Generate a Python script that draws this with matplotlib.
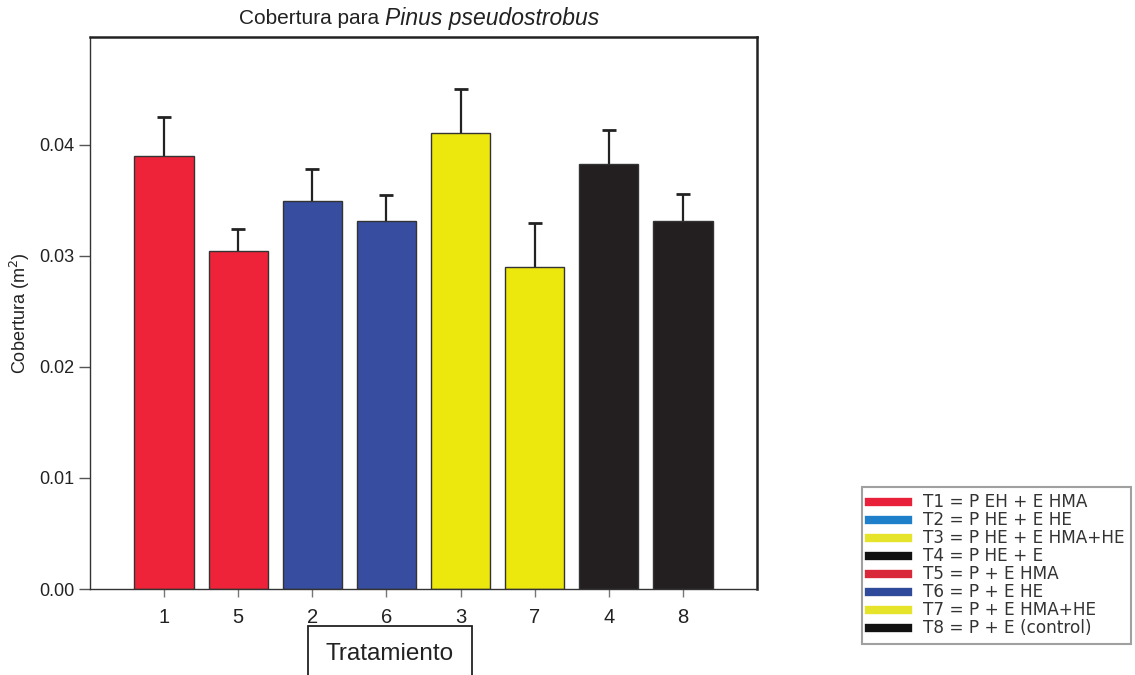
import matplotlib
matplotlib.use("Agg")
import matplotlib.pyplot as plt
from matplotlib.lines import Line2D
import numpy as np

plt.rcParams['font.family'] = ['Liberation Sans', 'DejaVu Sans']

tick_labels = ["1", "5", "2", "6", "3", "7", "4", "8"]
values = [0.0390, 0.0304, 0.0349, 0.0331, 0.0411, 0.0290, 0.0383, 0.0331]
errors = [0.0035, 0.0020, 0.0029, 0.0024, 0.0039, 0.0040, 0.0030, 0.0025]
bar_colors = ["#EE2339", "#EE2339", "#374DA0", "#374DA0",
              "#ECE70D", "#ECE70D", "#231F20", "#231F20"]

legend_labels = ["T1 = P EH + E HMA", "T2 = P HE + E HE", "T3 = P HE + E HMA+HE",
                 "T4 = P HE + E", "T5 = P + E HMA", "T6 = P + E HE",
                 "T7 = P + E HMA+HE", "T8 = P + E (control)"]
legend_colors = ["#E8203A", "#1E7FCB", "#E6E42A", "#111111",
                 "#D8283A", "#2F4A9A", "#E6E42A", "#111111"]

fig = plt.figure(figsize=(11.35, 6.75), dpi=100)
ax = fig.add_axes([0.0793, 0.1274, 0.5877, 0.8176])

x = np.arange(1, len(values) + 1)
ax.bar(x, values, width=0.8, color=bar_colors, edgecolor="#333333", linewidth=1.0, zorder=2)
eb = ax.errorbar(x, values, yerr=[np.zeros(len(errors)), errors], fmt="none",
                 ecolor="#222222", elinewidth=1.6, capsize=5, capthick=2.0, zorder=1)
caps = eb[1]
if len(caps) == 2:
    caps[0].set_visible(False)

ax.set_xlim(0, 9)
ax.set_ylim(0, 0.0497)
ax.set_yticks([0.0, 0.01, 0.02, 0.03, 0.04])
ax.set_yticklabels(["0.00", "0.01", "0.02", "0.03", "0.04"], fontsize=13, color="#222222")
ax.set_xticks(x)
ax.set_xticklabels(tick_labels, fontsize=14.5, color="#222222")
ax.tick_params(axis="y", direction="out", length=8, width=1, colors="#555555", labelcolor="#222222")
ax.tick_params(axis="x", direction="out", length=6, width=1, colors="#777777", labelcolor="#222222", pad=8)

for side in ["left", "bottom"]:
    ax.spines[side].set_linewidth(1.0)
    ax.spines[side].set_color("#333333")
for side in ["top", "right"]:
    ax.spines[side].set_linewidth(1.8)
    ax.spines[side].set_color("#222222")

ax.set_ylabel("Cobertura (m$^2$)", fontsize=13, color="#222222", labelpad=5)

fig.text(0.339, 0.972, "Cobertura para ", ha="right", va="center", fontsize=15, color="#222222")
fig.text(0.339, 0.972, "Pinus pseudostrobus", ha="left", va="center", fontsize=16.5,
         style="italic", color="#222222")

fig.text(0.3436, 0.031, "Tratamiento", ha="center", va="center", fontsize=17.5, color="#222222",
         bbox=dict(boxstyle="square,pad=0.72", facecolor="white", edgecolor="#222222", linewidth=1.3))

handles = [Line2D([0], [0], color=c, linewidth=6) for c in legend_colors]
leg = fig.legend(handles, legend_labels, loc="lower left", bbox_to_anchor=(0.752, 0.033),
                 frameon=True, fancybox=False, handlelength=2.3,
                 labelspacing=0.0, borderpad=0.4, handletextpad=0.9,
                 prop={"family": "DejaVu Sans", "size": 12.2})
leg.get_frame().set_edgecolor("#888888")
leg.get_frame().set_linewidth(1.5)
for t in leg.get_texts():
    t.set_color("#333333")

fig.savefig("out.png", dpi=100)
